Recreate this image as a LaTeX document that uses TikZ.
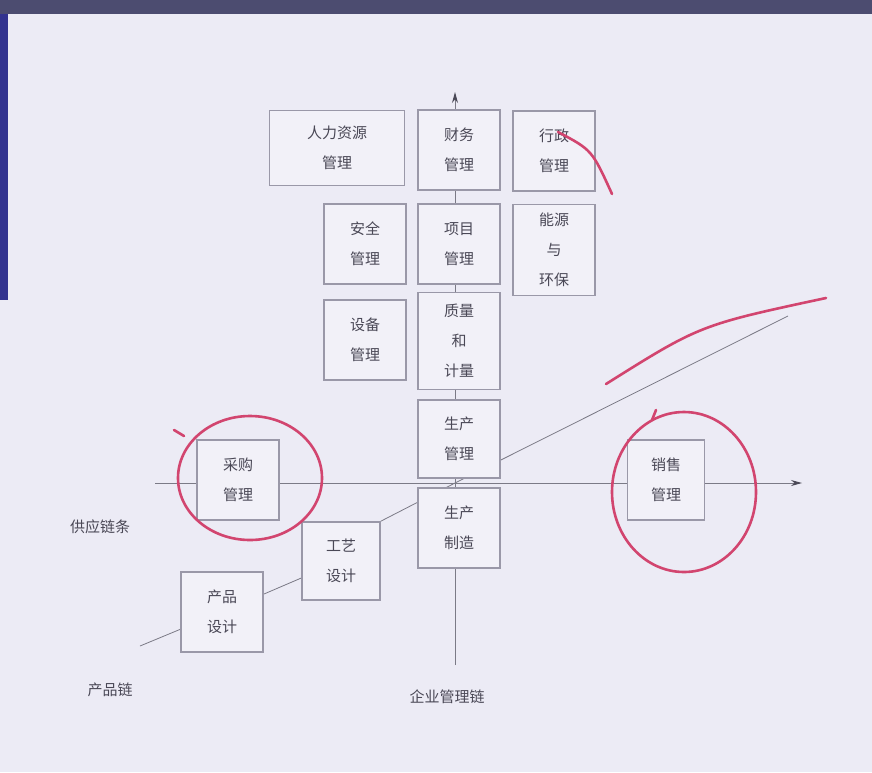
\documentclass[tikz,border=0pt]{standalone}
\usepackage{fontspec}
\newfontfamily\cjk{Noto Sans CJK SC}
\usetikzlibrary{arrows.meta,backgrounds}
\definecolor{paper}{HTML}{ECEBF5}
\definecolor{boxfill}{HTML}{F2F1F8}
\definecolor{rule}{HTML}{9A98A8}
\definecolor{ink}{HTML}{4A4856}
\definecolor{marker}{HTML}{D2456F}
\begin{document}
\begin{tikzpicture}[x=1pt,y=-1pt,
        box/.style={draw=rule,line width=1.6pt,fill=boxfill,text=ink,align=center,inner sep=0pt,
            font=\cjk\fontsize{15}{30}\selectfont},
        caption/.style={text=ink,inner sep=0pt,font=\cjk\fontsize{15}{17}\selectfont},
        axis/.style={draw=rule!80!black,line width=1pt},
        pen/.style={draw=marker,line width=2.6pt,line cap=round}]
    \useasboundingbox (0,0) rectangle (872,772);
    \begin{pgfonlayer}{background}
        \fill[paper] (0,0) rectangle (872,772);
        \fill[black!80!blue!70] (0,0) rectangle (872,14);
        \fill[blue!45!black!80] (0,14) rectangle (8,300);
    \end{pgfonlayer}

    \begin{scope}[every node/.append style={minimum width=82pt,minimum height=80pt}]
        \node[box,minimum width=135pt,minimum height=75pt] (hr) at (337,148) {人力资源\\管理};
        \node[box] (cw)   at (459,150) {财务\\管理};
        \node[box] (xz)   at (554,151) {行政\\管理};
        \node[box] (aq)   at (365,244) {安全\\管理};
        \node[box] (xm)   at (459,244) {项目\\管理};
        \node[box,minimum height=91pt] (hb) at (554,250) {能源\\与\\环保};
        \node[box] (sb)   at (365,340) {设备\\管理};
        \node[box,minimum height=97pt] (zl) at (459,341) {质量\\和\\计量};
        \node[box,minimum height=78pt] (scgl) at (459,439) {生产\\管理};
        \node[box] (sczz) at (459,528) {生产\\制造};
        \node[box] (cg)   at (238,480) {采购\\管理};
        \node[box,minimum width=77pt] (xs) at (666,480) {销售\\管理};
        \node[box,minimum width=78pt,minimum height=78pt] (gy) at (341,561) {工艺\\设计};
        \node[box] (cp)   at (222,612) {产品\\设计};
    \end{scope}

    \node[caption] (gyl) at (100,527) {供应链条};
    \node[caption] (glx) at (447,697) {企业管理链};
    \node[caption] (cpl) at (110,690) {产品链};

    \coordinate (o)     at (455,483);
    \coordinate (left)  at (155,483);
    \coordinate (right) at (802,483);
    \coordinate (top)   at (455,92);
    \coordinate (down)  at (455,665);
    \coordinate (pstart) at (140,646);
    \coordinate (pend)   at (788,316);

    \begin{pgfonlayer}{background}
        \draw[axis,-{Stealth[length=11pt,width=6pt,color=ink]}] (left) -- (right);
        \draw[axis,-{Stealth[length=11pt,width=6pt,color=ink]}] (down) -- (top);
        \draw[axis,line width=0.8pt]
            (pstart) -- (cp)
            (cp) -- (gy)
            (gy.north east) -- (o)
            (o) -- (pend)
        ;
    \end{pgfonlayer}

    \draw[pen] (558,132) .. controls (592,150) .. (612,194);
    \draw[pen] (606,384) .. controls (700,325) .. (826,298);
    \draw[pen] (250,478) ellipse [x radius=72,y radius=62];
    \draw[pen] (184,436) -- (174,430);
    \draw[pen] (684,492) ellipse [x radius=72,y radius=80];
    \draw[pen] (656,410) -- (652,420);
\end{tikzpicture}
\end{document}
